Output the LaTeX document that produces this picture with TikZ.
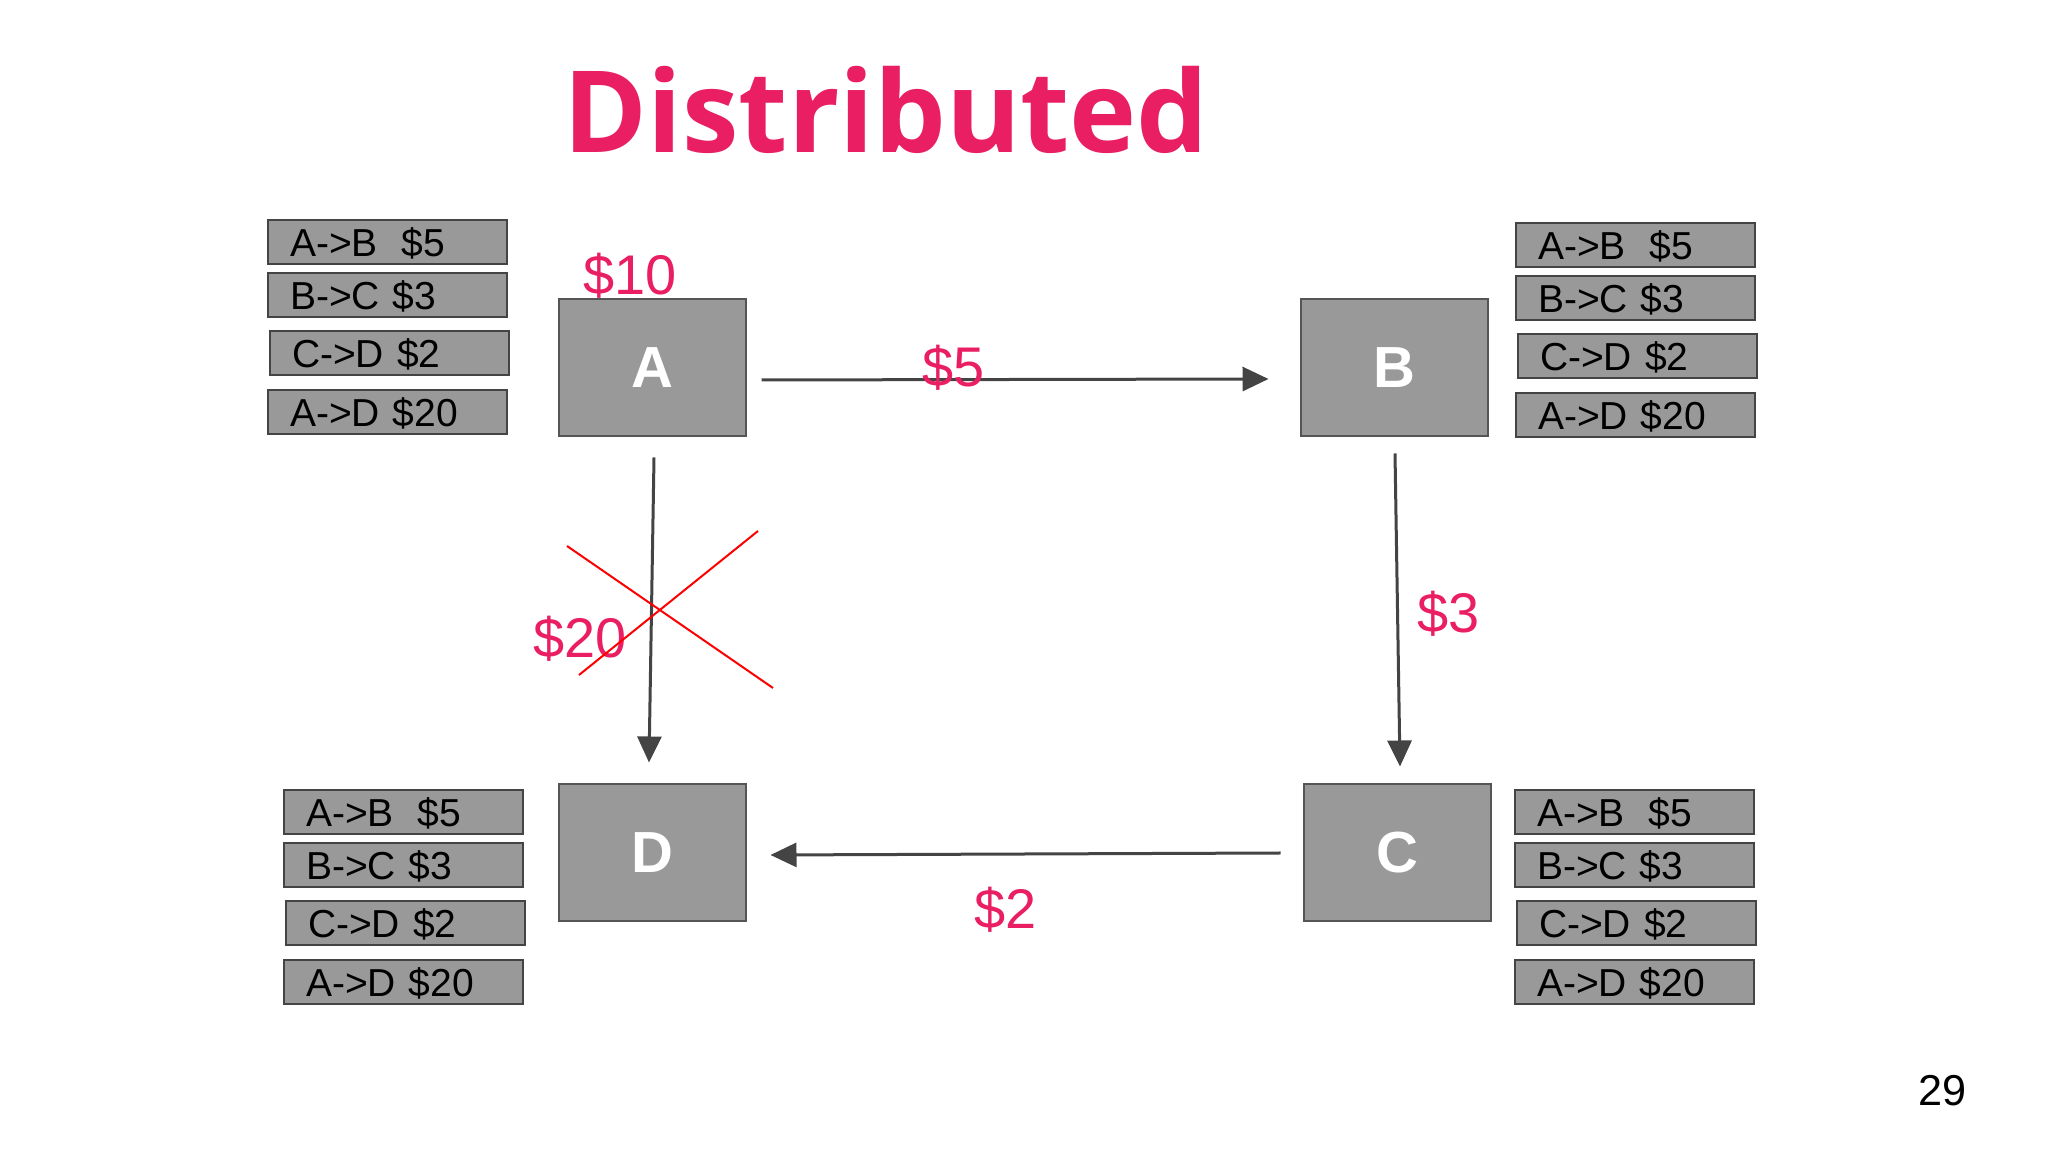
\documentclass[tikz,border=0pt]{standalone}
\usepackage{fontspec}
\setmainfont{Liberation Sans}
\newfontfamily\titlefont{Open Sans}
\usetikzlibrary{calc, arrows.meta, positioning}
\definecolor{pk}{RGB}{233, 30, 99}
\definecolor{bx}{HTML}{999999}
\definecolor{ed}{HTML}{555555}
\definecolor{ar}{HTML}{444444}

\begin{document}
\begin{tikzpicture}[x=0.1mm, y=-0.1mm,
    peer/.style={draw=ed, line width=0.2mm, fill=bx, minimum width=18.7mm, minimum height=13.7mm, inner sep=0pt, text=white, font=\fontsize{16.5}{19}\selectfont\bfseries},
    entry/.style={draw=ed!80!black, line width=0.2mm, fill=bx, anchor=north west, text width=19.5mm, inner xsep=2.2mm, inner ysep=0pt, minimum height=4.4mm, text height=3.4mm, text depth=0.4mm, align=left, font=\fontsize{11.1}{13}\selectfont},
    cost/.style={anchor=base west, inner sep=0pt, text=pk, font=\fontsize{15.9}{19}\selectfont},
    flow/.style={draw=ar, line width=0.3mm, -{Triangle[length=2.6mm, width=2.4mm]}}]
			\fill[white] (0,0) rectangle (2048,1152);
			\useasboundingbox (0,0) rectangle (2048,1152);
			
			\node[anchor=base west, inner sep=0pt, text=pk, font=\titlefont\bfseries\fontsize{32.3}{38}\selectfont] (title) at (563,153) {Distributed};
			
			\node[peer] (A) at (652,368) {A};
			\node[peer] (B) at (1394,368) {B};
			\node[peer] (D) at (652,853) {D};
			\node[peer] (C) at (1397,853) {C};
			
			\draw[flow] ($(A.east)+(15,12)$) -- ($(B.west)+(-31,11)$);
			\draw[flow] ($(A.south)+(2,20)$) -- ($(D.north)+(-3,-21)$);
			\draw[flow] ($(B.south)+(1,16)$) -- ($(C.north)+(3,-17)$);
			\draw[flow] ($(C.west)+(-22,0)$) -- ($(D.east)+(24,2)$);
			
			\node[cost] (fund) at (583,295) {\$10};
			\node[cost] (costAB) at (922,387) {\$5};
			\node[cost] (costBC) at (1417,633) {\$3};
			\node[cost] (costAD) at (533,658) {\$20};
			\node[cost] (costCD) at (974,929) {\$2};
			
			% the A->D payment is struck out
			\draw[red, line width=0.2mm] (567,546) -- (773,688);
			\draw[red, line width=0.2mm] (758,531) -- (579,675);
			
			\foreach \p/\x/\y in {A/267/219, B/1515/222, D/283/789, C/1514/789} {
				\node[entry] (lg\p1) at (\x,\y) {A->B\hspace{2.4mm}\$5};
				\node[entry] (lg\p2) at (\x,\y+53) {B->C \$3};
				\node[entry] (lg\p3) at (\x+2,\y+111) {C->D \$2};
				\node[entry] (lg\p4) at (\x,\y+170) {A->D \$20};
			}
			
			\node[anchor=base west, inner sep=0pt, font=\fontsize{12.3}{14}\selectfont] (page) at (1918,1105) {29};
			
		\end{tikzpicture}
\end{document}
